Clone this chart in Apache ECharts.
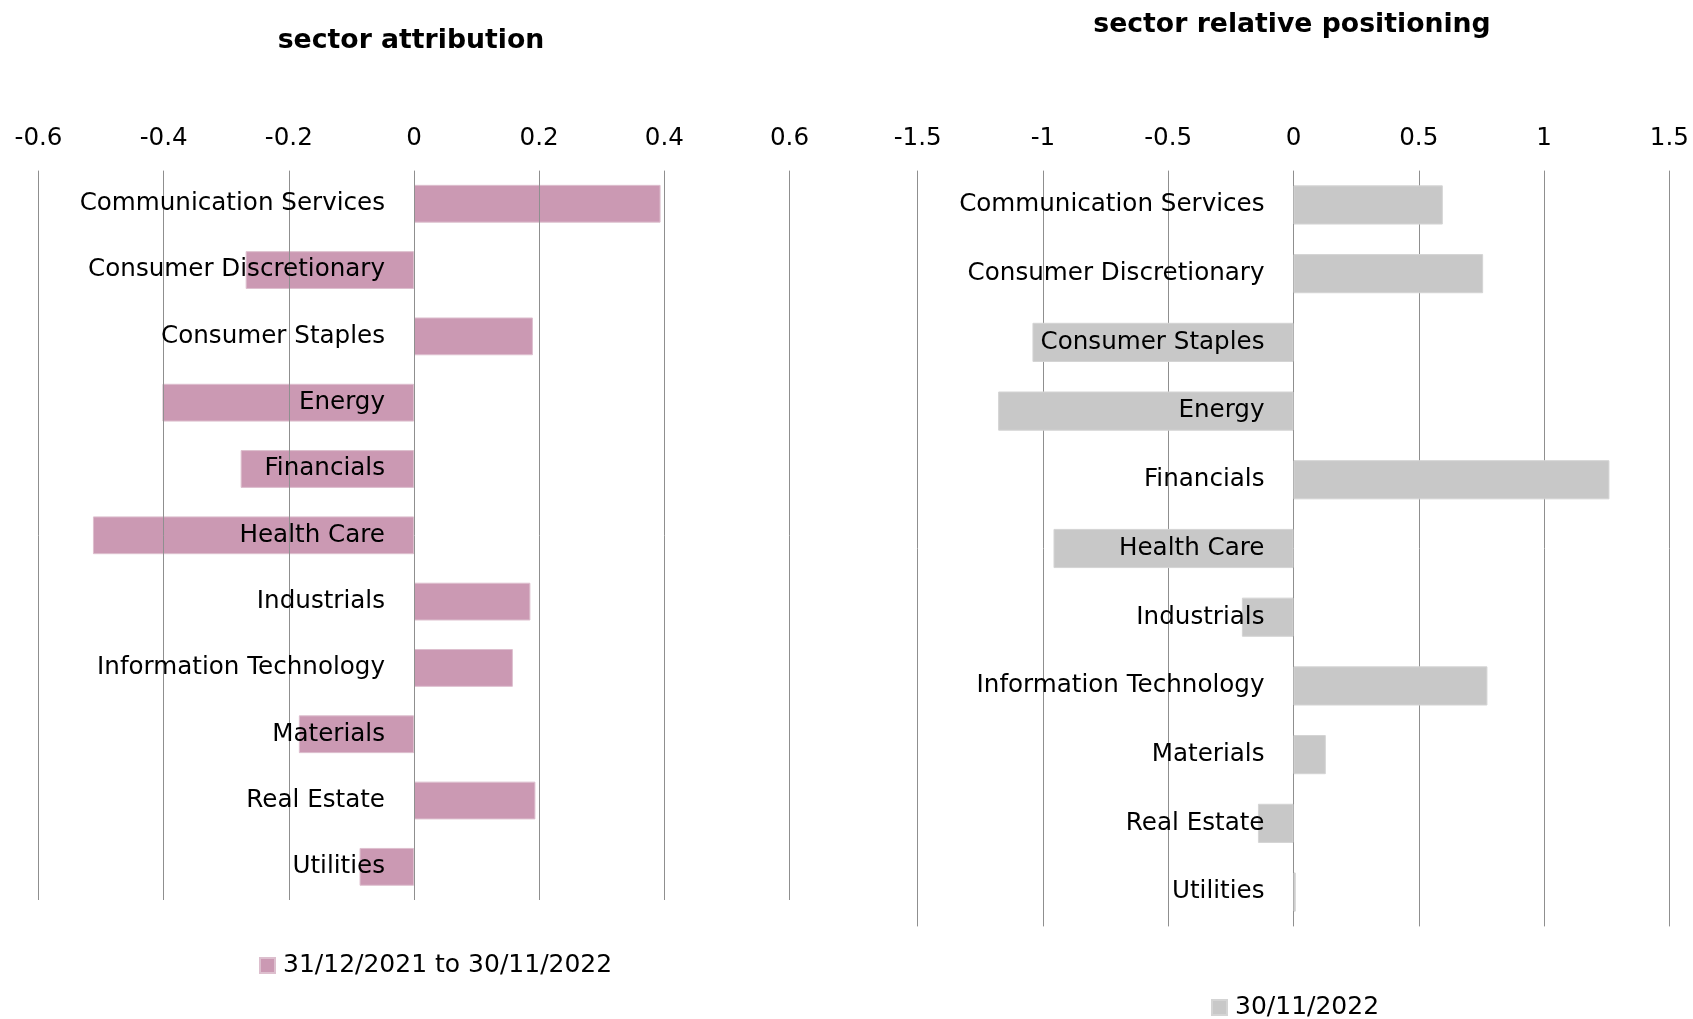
<!DOCTYPE html>
<html>
<head>
<meta charset="utf-8">
<script src="https://cdn.jsdelivr.net/npm/echarts@6/dist/echarts.min.js"></script>
<style>
html,body{margin:0;padding:0;background:#fff;}
#chart{width:1693px;height:1019px;}
</style>
</head>
<body>
<div id="chart"></div>
<script>
const categories = ['Communication Services','Consumer Discretionary','Consumer Staples','Energy','Financials','Health Care','Industrials','Information Technology','Materials','Real Estate','Utilities'];
const attributionValues = [0.394, -0.269, 0.190, -0.402, -0.277, -0.513, 0.186, 0.158, -0.184, 0.194, -0.087];
const positioningValues = [0.596, 0.757, -1.042, -1.179, 1.261, -0.958, -0.206, 0.774, 0.129, -0.142, 0.009];
const attributionTicks = { min: -0.6, max: 0.6, interval: 0.2 };
const positioningTicks = { min: -1.5, max: 1.5, interval: 0.5 };
const attributionName = '31/12/2021 to 30/11/2022';
const positioningName = '30/11/2022';
const titles = ['sector attribution', 'sector relative positioning'];

const FONT = 'DejaVu Sans';
const FS = 24.6;
const pink = '#CB99B3';
const gray = '#C8C8C8';
const gridColor = '#8F8F8F';
const gridLefts = [38.5, 917.7];

const chart = echarts.init(document.getElementById('chart'));

function xAxisDef(idx, ticks, z) {
  return {
    type: 'value', gridIndex: idx, position: 'top',
    min: ticks.min, max: ticks.max, interval: ticks.interval,
    axisLine: { show: false }, axisTick: { show: false },
    splitLine: { show: true, lineStyle: { color: gridColor, width: 1 } },
    axisLabel: { fontFamily: FONT, fontSize: FS, color: '#000', margin: 19,
      formatter: v => String(Math.round(v * 10) / 10) },
    z: z
  };
}
function yAxisDef(idx) {
  return {
    type: 'category', gridIndex: idx, data: categories, inverse: true, position: 'left',
    axisLine: { show: false, onZero: false },
    axisTick: { show: false },
    splitLine: { show: false },
    axisLabel: { fontFamily: FONT, fontSize: FS, color: '#000', margin: 29, interval: 0 },
    z: 6
  };
}

chart.setOption({
  animation: false,
  backgroundColor: '#fff',
  title: [
    { text: titles[0], left: 406, top: 23, textAlign: 'center',
      textStyle: { fontFamily: FONT, fontSize: 26.7, fontWeight: 'bold', color: '#000' } },
    { text: titles[1], left: 1287, top: 7, textAlign: 'center',
      textStyle: { fontFamily: FONT, fontSize: 26.7, fontWeight: 'bold', color: '#000' } }
  ],
  legend: [
    { data: [attributionName], left: 259, top: 953, padding: 0, itemWidth: 15, itemHeight: 15,
      icon: 'rect', textStyle: { fontFamily: FONT, fontSize: 25, color: '#000', padding: [0,0,0,3] } },
    { data: [positioningName], left: 1211, top: 995, padding: 0, itemWidth: 15, itemHeight: 15,
      icon: 'rect', textStyle: { fontFamily: FONT, fontSize: 25, color: '#000', padding: [0,0,0,3] } }
  ],
  grid: [
    { left: gridLefts[0], top: 170.6, width: 751, height: 729.4, containLabel: false, outerBoundsMode: 'none' },
    { left: gridLefts[1], top: 170.6, width: 751.6, height: 755.8, containLabel: false, outerBoundsMode: 'none' }
  ],
  xAxis: [xAxisDef(0, attributionTicks, 5), xAxisDef(1, positioningTicks, 1)],
  yAxis: [yAxisDef(0), yAxisDef(1)],
  series: [
    { name: attributionName, type: 'bar', xAxisIndex: 0, yAxisIndex: 0,
      data: attributionValues, barCategoryGap: '43%',
      itemStyle: { color: pink, borderColor: '#DDBFCE', borderWidth: 1 }, z: 2 },
    { name: positioningName, type: 'bar', xAxisIndex: 1, yAxisIndex: 1,
      data: positioningValues, barCategoryGap: '43%',
      itemStyle: { color: gray, borderColor: '#D4D4D4', borderWidth: 1 }, z: 2 }
  ]
});

// Place category labels next to the zero line of each value axis (Excel "next to axis")
const zero0 = chart.convertToPixel({ xAxisIndex: 0 }, 0);
const zero1 = chart.convertToPixel({ xAxisIndex: 1 }, 0);
chart.setOption({
  yAxis: [
    { offset: -(zero0 - gridLefts[0]) },
    { offset: -(zero1 - gridLefts[1]) }
  ]
});
</script>
</body>
</html>
